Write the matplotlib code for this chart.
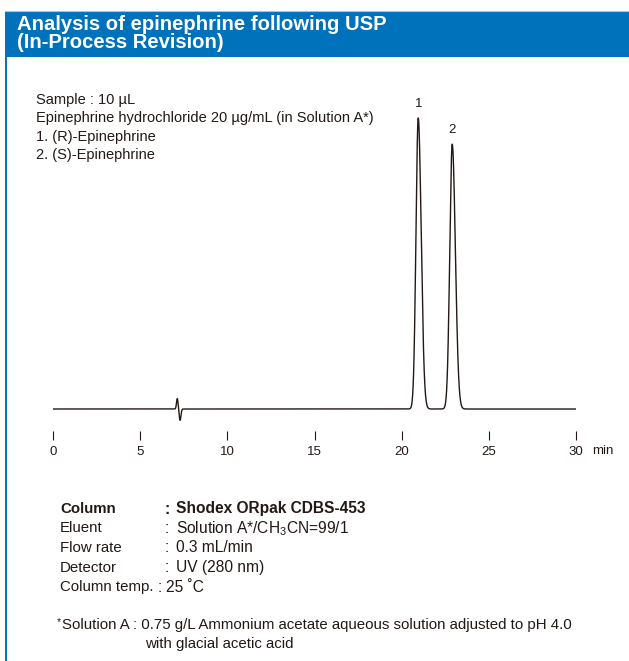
import numpy as np
import matplotlib
matplotlib.use("Agg")
import matplotlib.pyplot as plt
from matplotlib.patches import Rectangle
from matplotlib.lines import Line2D

plt.rcParams['font.family'] = ['Liberation Sans', 'DejaVu Sans']
plt.rcParams['mathtext.fontset'] = 'custom'
plt.rcParams['mathtext.rm'] = 'Liberation Sans'

# ---- data ----
peak_labels = ["1", "2"]
peak_times = [20.95, 22.90]          # min
peak_heights = [100.0, 91.0]         # relative response
peak_sigma_left = [0.13, 0.14]
peak_sigma_right = [0.17, 0.18]
dist_times = [7.13, 7.29]            # injection disturbance
dist_heights = [3.6, -3.9]
dist_sigma = [0.045, 0.05]
x_ticks = [0, 5, 10, 15, 20, 25, 30]

BLUE = "#0072BC"
INK = "#231815"

fig = plt.figure(figsize=(6.29, 6.61), dpi=100)
W, H = 629, 661

def fx(px):
    return px / W

def fy(py):
    return 1 - py / H

# header bar
fig.patches.append(Rectangle((fx(5), fy(57)), fx(629 - 5), (57 - 11) / H,
                             transform=fig.transFigure, facecolor=BLUE,
                             edgecolor='none', zorder=0))
fig.lines.append(Line2D([fx(5), 1], [fy(10.5), fy(10.5)], transform=fig.transFigure,
                        color="#9CC7E6", lw=0.8))
fig.lines.append(Line2D([fx(6), fx(6)], [fy(57), 0], transform=fig.transFigure,
                        color=BLUE, lw=1.4))
fig.text(fx(17), fy(24), "Analysis of epinephrine following USP", color='white',
         fontsize=14.6, fontweight='bold', va='center', ha='left')
fig.text(fx(17), fy(43), "(In-Process Revision)", color='white',
         fontsize=14.6, fontweight='bold', va='center', ha='left')

# sample info
info = ["Sample : 10 µL",
        "Epinephrine hydrochloride 20 µg/mL (in Solution A*)",
        "1. (R)-Epinephrine",
        "2. (S)-Epinephrine"]
for i, s in enumerate(info):
    fig.text(fx(36), fy(100 + i * 18.3), s, fontsize=10.5, color=INK, va='center')

# chromatogram axes
ax_left, ax_right = 53, 576
ax_top, ax_bot = 95, 440
ax = fig.add_axes([fx(ax_left), fy(ax_bot), (ax_right - ax_left) / W, (ax_bot - ax_top) / H])
t = np.linspace(0, 30, 6001)
y = np.zeros_like(t)
for tr, h, sl, sr in zip(peak_times, peak_heights, peak_sigma_left, peak_sigma_right):
    s = np.where(t < tr, sl, sr)
    y += h * np.exp(-0.5 * ((t - tr) / s) ** 2)
for tr, h, s in zip(dist_times, dist_heights, dist_sigma):
    y += h * np.exp(-0.5 * ((t - tr) / s) ** 2)
ax.plot(t, y, color=INK, lw=1.0)

yb = 409
scale = (yb - 118) / peak_heights[0]
ax.set_ylim(-(ax_bot - yb) / scale, (yb - ax_top) / scale)
ax.set_xlim(0, 30)
for sp in ax.spines.values():
    sp.set_visible(False)
ax.set_yticks([])
ax.set_xticks(x_ticks)
ax.set_xticklabels([str(v) for v in x_ticks])
ax.tick_params(axis='x', direction='in', length=6.5, width=0.8, color=INK,
               labelsize=9.5, labelcolor=INK, pad=4)
ax.patch.set_visible(False)
for lab, tr, h in zip(peak_labels, peak_times, peak_heights):
    ax.annotate(lab, (tr, h), xytext=(0, 6), textcoords='offset points',
                ha='center', va='bottom', fontsize=9.5, color=INK)
fig.text(fx(592), fy(451), "min", fontsize=9.5, color=INK, va='center', ha='left')

# conditions
rows = [("Column", "Shodex ORpak CDBS-453", True),
        ("Eluent", r"Solution A*/CH$_\mathregular{3}$CN=99/1", False),
        ("Flow rate", "0.3 mL/min", False),
        ("Detector", "UV (280 nm)", False),
        ("Column temp.", "25 ˚C", False)]
for i, (k, v, b) in enumerate(rows):
    yy = fy(509 + i * 19.5)
    w = 'bold' if b else 'normal'
    fig.text(fx(60), yy, k, fontsize=10.8, fontweight=w, color=INK, va='center')
    if k == "Column temp.":
        fig.text(fx(158), yy, ":", fontsize=11.2, fontweight=w, color=INK, va='center')
        fig.text(fx(166), yy, v, fontsize=11.2, fontweight=w, color=INK, va='center')
    else:
        fig.text(fx(165), yy, ":", fontsize=11.2, fontweight=w, color=INK, va='center')
        fig.text(fx(176), yy, v, fontsize=11.2, fontweight=w, color=INK, va='center')

fig.text(fx(57), fy(622), "*", fontsize=7.5, color=INK, va='center')
fig.text(fx(62), fy(625), "Solution A : 0.75 g/L Ammonium acetate aqueous solution adjusted to pH 4.0",
         fontsize=10.8, color=INK, va='center')
fig.text(fx(145), fy(644), "with glacial acetic acid", fontsize=10.8, color=INK, va='center')

fig.savefig("out.png", dpi=100)
